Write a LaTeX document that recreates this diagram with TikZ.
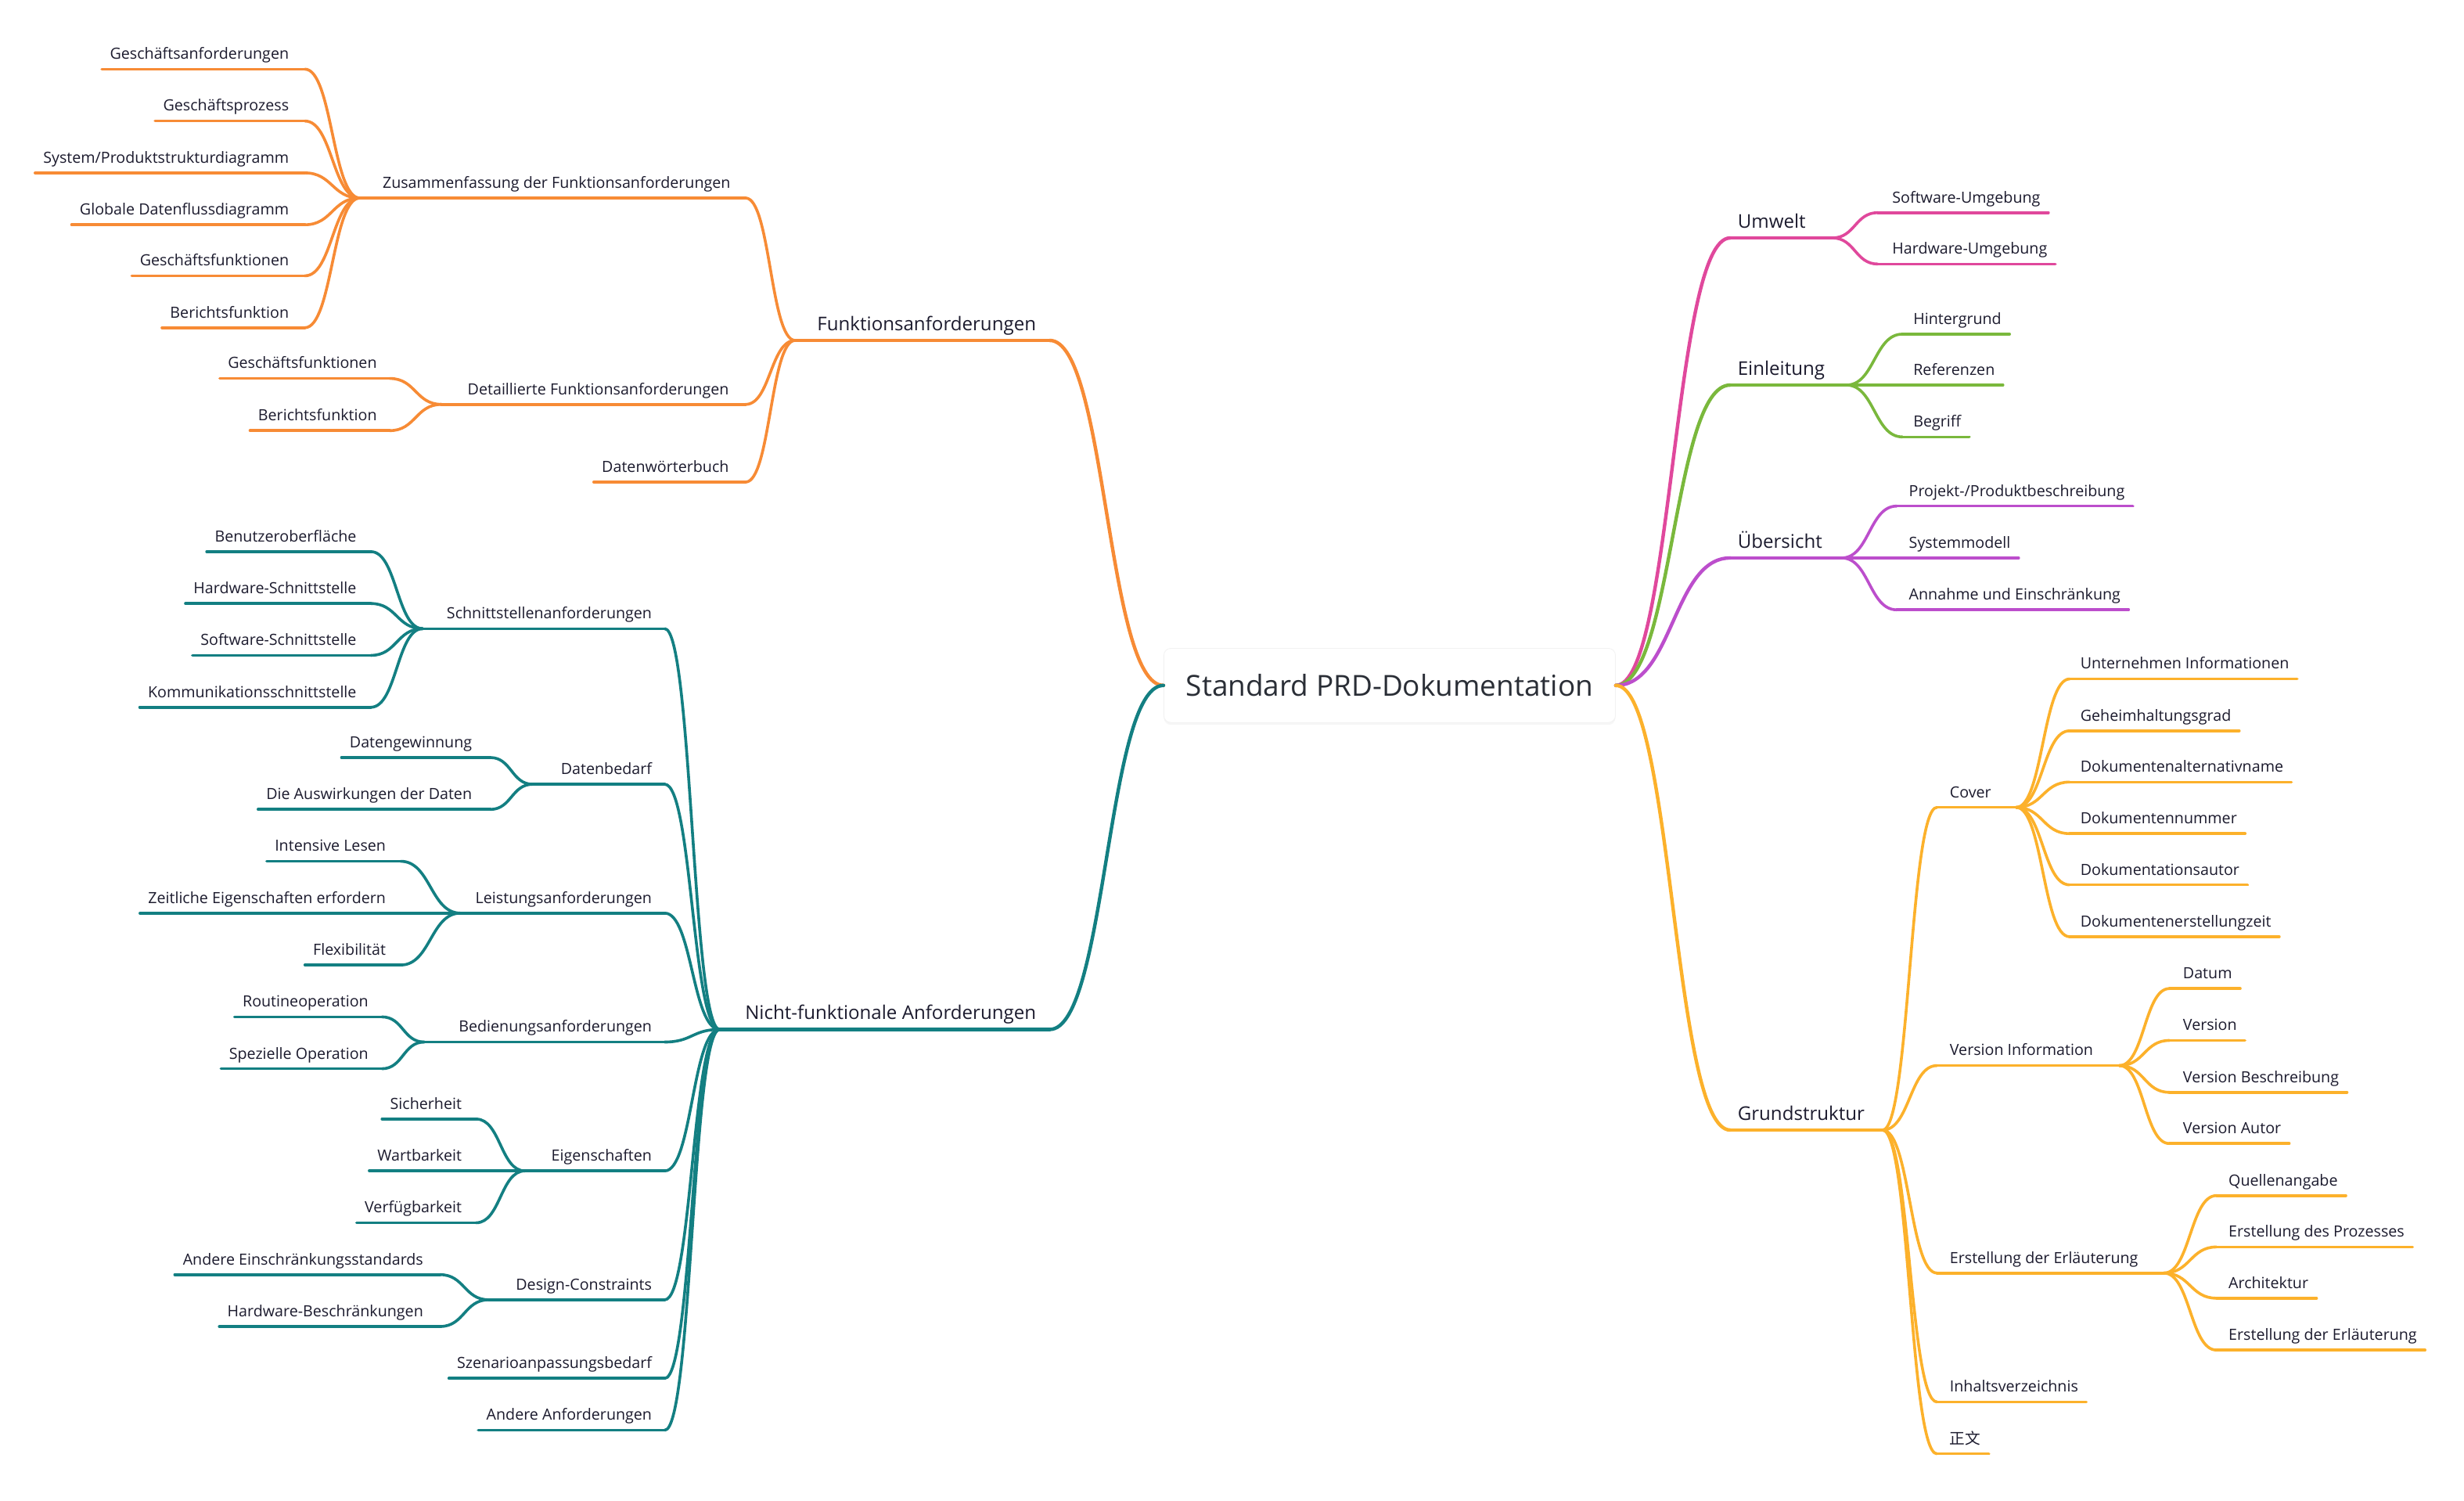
\documentclass[tikz,border=0pt]{standalone}
\usepackage{fontspec}
\setmainfont{Open Sans}
\newfontfamily\cjk{Noto Sans CJK SC}
\usetikzlibrary{calc,shadows}
\definecolor{cOr}{HTML}{F78B35}
\definecolor{cTe}{HTML}{137F82}
\definecolor{cPk}{HTML}{E0489C}
\definecolor{cGr}{HTML}{7AB83C}
\definecolor{cPu}{HTML}{BC4ECC}
\definecolor{cYe}{HTML}{FCB12B}
\definecolor{cTx}{HTML}{1C1B2E}
\definecolor{cMain}{HTML}{2A2E36}
\tikzset{
  txtone/.style={font=\fontsize{12}{14}\selectfont, text=cTx, inner xsep=5pt, inner ysep=0pt},
  txttwo/.style={font=\fontsize{9.8}{12}\selectfont, text=cTx, inner xsep=5pt, inner ysep=0pt},
  ln/.style={line width=1.8pt, line cap=round},
  lnone/.style={line width=2.1pt, line cap=round},
  mainln/.style={line width=2.2pt, line cap=round},
  rootbox/.style={rounded corners=4.5pt, fill=white, draw=black!5,
    drop shadow={opacity=0.07, shadow xshift=0pt, shadow yshift=-1.5pt},
    minimum width=287.4pt, minimum height=47.2pt, inner sep=0pt,
    font=\fontsize{18.4}{22}\selectfont, text=cMain}
}
% connector: S-curve with horizontal tangents at both ends
\newcommand\mmlink[3][]{\draw[#1] (#2) let \p1=(#2), \p2=(#3) in
  .. controls ({0.5*\x1+0.5*\x2},\y1) and ({0.5*\x1+0.5*\x2},\y2) .. (\p2);}
% left-side inner node: [style]{name}{colour}{text right x}{line y}{near x}{far x}{text}
\newcommand\midL[8][txttwo]{%
  \coordinate (#2-a) at (#6,#5); \coordinate (#2-b) at (#7,#5);
  \node[#1, anchor=base east] (#2) at (#4+5,#5-6.3) {#8};
  \draw[#3, ln] (#2-b) -- (#2-a);}
% right-side inner node: [style]{name}{colour}{text left x}{line y}{near x}{far x}{text}
\newcommand\midR[8][txttwo]{%
  \coordinate (#2-a) at (#6,#5); \coordinate (#2-b) at (#7,#5);
  \node[#1, anchor=base west] (#2) at (#4-5,#5-6.3) {#8};
  \draw[#3, ln] (#2-a) -- (#2-b);}
% left-side leaf: {name}{colour}{text right x}{line y}{near x}{text}
\newcommand\leafL[6]{%
  \coordinate (#1-a) at (#5,#4);
  \node[txttwo, anchor=base east] (#1) at (#3+5,#4-6.3) {#6};
  \draw[#2, ln] (#1-a) -- (#1-a -| #1.west);}
% right-side leaf: {name}{colour}{text left x}{line y}{near x}{text}
\newcommand\leafR[6]{%
  \coordinate (#1-a) at (#5,#4);
  \node[txttwo, anchor=base west] (#1) at (#3-5,#4-6.3) {#6};
  \draw[#2, ln] (#1-a) -- (#1-a -| #1.east);}

\begin{document}
\begin{tikzpicture}[x=1pt,y=-1pt]
\useasboundingbox[fill=white] (0,0) rectangle (1568,955);

% ---------- root ----------
\node[rootbox] (root) at (884.3,436.1) {Standard PRD-Dokumentation};

% ================= LEFT: Funktionsanforderungen (orange) =================
\midL[txtone]{F}{cOr}{659.5}{216.6}{668}{506}{Funktionsanforderungen}
\draw[cOr, lnone] (F-b) -- (F-a);
\mmlink[cOr, mainln]{F-a}{root.west}

\midL{Z}{cOr}{465}{126}{474.5}{229}{Zusammenfassung der Funktionsanforderungen}
\midL{D}{cOr}{464}{257.3}{474.5}{281}{Detaillierte Funktionsanforderungen}
\leafL{W}{cOr}{464}{306.7}{474.5}{Datenwörterbuch}
\foreach \nd in {Z,D,W} {\mmlink[cOr, ln]{\nd-a}{F-b}}

\leafL{z1}{cOr}{184}{44}{194}{Geschäftsanforderungen}
\leafL{z2}{cOr}{184}{77}{194}{Geschäftsprozess}
\leafL{z3}{cOr}{184}{110}{194}{System/Produktstrukturdiagramm}
\leafL{z4}{cOr}{184}{143}{194}{Globale Datenflussdiagramm}
\leafL{z5}{cOr}{184}{175.5}{194}{Geschäftsfunktionen}
\leafL{z6}{cOr}{184}{208.5}{194}{Berichtsfunktion}
\foreach \nd in {z1,z2,z3,z4,z5,z6} {\mmlink[cOr, ln]{\nd-a}{Z-b}}

\leafL{d1}{cOr}{240}{240.8}{248}{Geschäftsfunktionen}
\leafL{d2}{cOr}{240}{274}{248}{Berichtsfunktion}
\foreach \nd in {d1,d2} {\mmlink[cOr, ln]{\nd-a}{D-b}}

% ================= LEFT: Nicht-funktionale Anforderungen (teal) =================
\midL[txtone]{N}{cTe}{659.5}{655}{668}{458}{Nicht-funktionale Anforderungen}
\draw[cTe, lnone] (N-b) -- (N-a);
\mmlink[cTe, mainln]{N-a}{root.west}

\midL{S1}{cTe}{415}{400}{423}{269}{Schnittstellenanforderungen}
\midL{S2}{cTe}{415}{499}{423}{339}{Datenbedarf}
\midL{S3}{cTe}{415}{581}{423}{293}{Leistungsanforderungen}
\midL{S4}{cTe}{415}{663}{423}{270}{Bedienungsanforderungen}
\midL{S5}{cTe}{415}{745}{423}{334}{Eigenschaften}
\midL{S6}{cTe}{415}{827}{423}{311}{Design-Constraints}
\leafL{S7}{cTe}{415}{877}{423}{Szenarioanpassungsbedarf}
\leafL{S8}{cTe}{415}{910}{423}{Andere Anforderungen}
\foreach \nd in {S1,S2,S3,S4,S5,S6,S7,S8} {\mmlink[cTe, ln]{\nd-a}{N-b}}

\leafL{a1}{cTe}{227}{351}{236}{Benutzeroberfläche}
\leafL{a2}{cTe}{227}{384}{236}{Hardware-Schnittstelle}
\leafL{a3}{cTe}{227}{417}{236}{Software-Schnittstelle}
\leafL{a4}{cTe}{227}{450}{236}{Kommunikationsschnittstelle}
\foreach \nd in {a1,a2,a3,a4} {\mmlink[cTe, ln]{\nd-a}{S1-b}}

\leafL{b1}{cTe}{300.5}{482}{312}{Datengewinnung}
\leafL{b2}{cTe}{300.5}{515}{312}{Die Auswirkungen der Daten}
\foreach \nd in {b1,b2} {\mmlink[cTe, ln]{\nd-a}{S2-b}}

\leafL{c1}{cTe}{245.7}{548}{255}{Intensive Lesen}
\leafL{c2}{cTe}{245.7}{581}{255}{Zeitliche Eigenschaften erfordern}
\leafL{c3}{cTe}{245.7}{614}{255}{Flexibilität}
\foreach \nd in {c1,c2,c3} {\mmlink[cTe, ln]{\nd-a}{S3-b}}

\leafL{e1}{cTe}{234.6}{647}{243}{Routineoperation}
\leafL{e2}{cTe}{234.6}{680}{243}{Spezielle Operation}
\foreach \nd in {e1,e2} {\mmlink[cTe, ln]{\nd-a}{S4-b}}

\leafL{f1}{cTe}{294}{712}{303}{Sicherheit}
\leafL{f2}{cTe}{294}{745}{303}{Wartbarkeit}
\leafL{f3}{cTe}{294}{778}{303}{Verfügbarkeit}
\foreach \nd in {f1,f2,f3} {\mmlink[cTe, ln]{\nd-a}{S5-b}}

\leafL{g1}{cTe}{269.5}{811}{280}{Andere Einschränkungsstandards}
\leafL{g2}{cTe}{269.5}{844}{280}{Hardware-Beschränkungen}
\foreach \nd in {g1,g2} {\mmlink[cTe, ln]{\nd-a}{S6-b}}

% ================= RIGHT: Umwelt (pink) =================
\midR[txtone]{U}{cPk}{1105.6}{151.4}{1101}{1166}{Umwelt}
\draw[cPk, lnone] (U-a) -- (U-b);
\mmlink[cPk, mainln]{U-a}{root.east}
\leafR{u1}{cPk}{1204}{135.3}{1195}{Software-Umgebung}
\leafR{u2}{cPk}{1204}{168}{1195}{Hardware-Umgebung}
\foreach \nd in {u1,u2} {\mmlink[cPk, ln]{\nd-a}{U-b}}

% ================= RIGHT: Einleitung (green) =================
\midR[txtone]{E}{cGr}{1105.6}{245}{1101}{1175}{Einleitung}
\draw[cGr, lnone] (E-a) -- (E-b);
\mmlink[cGr, mainln]{E-a}{root.east}
\leafR{h1}{cGr}{1217.4}{212.6}{1210.6}{Hintergrund}
\leafR{h2}{cGr}{1217.4}{245}{1210.6}{Referenzen}
\leafR{h3}{cGr}{1217.4}{278}{1210.6}{Begriff}
\foreach \nd in {h1,h2,h3} {\mmlink[cGr, ln]{\nd-a}{E-b}}

% ================= RIGHT: Übersicht (purple) =================
\midR[txtone]{UE}{cPu}{1105.6}{355}{1101}{1172}{Übersicht}
\draw[cPu, lnone] (UE-a) -- (UE-b);
\mmlink[cPu, mainln]{UE-a}{root.east}
\leafR{p1}{cPu}{1214.6}{322}{1207}{Projekt-/Produktbeschreibung}
\leafR{p2}{cPu}{1214.6}{355}{1207}{Systemmodell}
\leafR{p3}{cPu}{1214.6}{388}{1207}{Annahme und Einschränkung}
\foreach \nd in {p1,p2,p3} {\mmlink[cPu, ln]{\nd-a}{UE-b}}

% ================= RIGHT: Grundstruktur (yellow) =================
\midR[txtone]{G}{cYe}{1105.6}{719}{1101}{1198}{Grundstruktur}
\draw[cYe, lnone] (G-a) -- (G-b);
\mmlink[cYe, mainln]{G-a}{root.east}

\midR{CV}{cYe}{1240.6}{513.7}{1232.6}{1283}{Cover}
\midR{VI}{cYe}{1240.6}{678}{1232.6}{1348.6}{Version Information}
\midR{EE}{cYe}{1240.6}{810}{1232.6}{1377}{Erstellung der Erläuterung}
\leafR{IV}{cYe}{1240.6}{892}{1232.6}{Inhaltsverzeichnis}
\leafR{ZW}{cYe}{1240.6}{925}{1232.6}{{\cjk 正文}}
\foreach \nd in {CV,VI,EE,IV,ZW} {\mmlink[cYe, ln]{\nd-a}{G-b}}

\leafR{k1}{cYe}{1323.7}{432}{1317}{Unternehmen Informationen}
\leafR{k2}{cYe}{1323.7}{465}{1317}{Geheimhaltungsgrad}
\leafR{k3}{cYe}{1323.7}{497.6}{1317}{Dokumentenalternativname}
\leafR{k4}{cYe}{1323.7}{530.4}{1317}{Dokumentennummer}
\leafR{k5}{cYe}{1323.7}{563}{1317}{Dokumentationsautor}
\leafR{k6}{cYe}{1323.7}{596}{1317}{Dokumentenerstellungzeit}
\foreach \nd in {k1,k2,k3,k4,k5,k6} {\mmlink[cYe, ln]{\nd-a}{CV-b}}

\leafR{v1}{cYe}{1389}{629}{1380.5}{Datum}
\leafR{v2}{cYe}{1389}{662}{1380.5}{Version}
\leafR{v3}{cYe}{1389}{695}{1380.5}{Version Beschreibung}
\leafR{v4}{cYe}{1389}{727.6}{1380.5}{Version Autor}
\foreach \nd in {v1,v2,v3,v4} {\mmlink[cYe, ln]{\nd-a}{VI-b}}

\leafR{q1}{cYe}{1418}{760.7}{1410.5}{Quellenangabe}
\leafR{q2}{cYe}{1418}{793.4}{1410.5}{Erstellung des Prozesses}
\leafR{q3}{cYe}{1418}{826}{1410.5}{Architektur}
\leafR{q4}{cYe}{1418}{859}{1410.5}{Erstellung der Erläuterung}
\foreach \nd in {q1,q2,q3,q4} {\mmlink[cYe, ln]{\nd-a}{EE-b}}
\end{tikzpicture}
\end{document}
